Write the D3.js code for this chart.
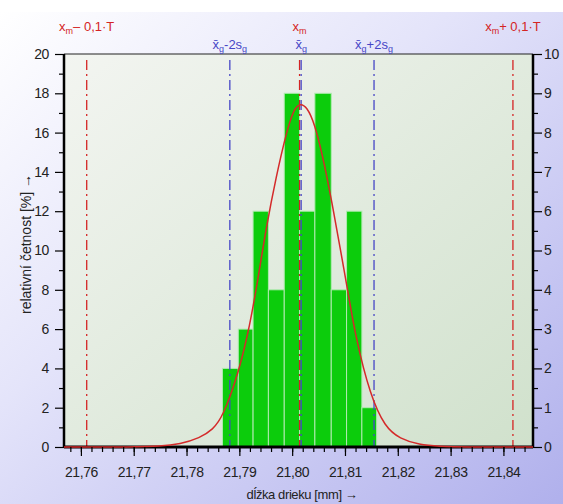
<!DOCTYPE html>
<html>
<head>
<meta charset="utf-8">
<script src="https://cdn.jsdelivr.net/npm/d3@7"></script>
<style>
body { margin: 0; background: #fff; }
text { font-family: "Liberation Sans Narrow", "Liberation Sans", Arial, sans-serif; }
</style>
</head>
<body>
<svg width="563" height="504"></svg>
<script>
// histogram: bin edges [mm] and relative frequency [%]
var binEdges = [21.7868, 21.7898, 21.7926, 21.7955, 21.7985, 21.8014, 21.8043, 21.8074, 21.8103, 21.8132, 21.8160];
var binPercent = [4, 6, 12, 8, 18, 12, 18, 8, 12, 2];

// fitted curve (x [mm], y [%])
var curveX = [21.7568, 21.7700, 21.7750, 21.7788, 21.7825, 21.7850, 21.7868, 21.7898, 21.7920, 21.7935, 21.7951, 21.7970, 21.7989, 21.8003, 21.8015, 21.8028, 21.8042, 21.8058, 21.8075, 21.8091, 21.8105, 21.8120, 21.8148, 21.8176, 21.8204, 21.8240, 21.8280, 21.8320, 21.8456];
var curveY = [0, 0, 0.03, 0.15, 0.45, 0.9, 1.5, 3.7, 6.2, 8.5, 11.2, 13.8, 16.0, 17.2, 17.5, 17.3, 16.5, 14.8, 12.5, 10.1, 8.0, 5.6, 2.6, 1.0, 0.42, 0.12, 0.03, 0, 0];

// reference lines
var refNames = ["xm-", "xm", "xm+", "xg-2s", "xg", "xg+2s"];
var refValues = [21.7611, 21.8014, 21.8418, 21.7882, 21.8017, 21.8155];

var xTicks = [21.76, 21.77, 21.78, 21.79, 21.80, 21.81, 21.82, 21.83, 21.84];
var leftTicks = [0, 2, 4, 6, 8, 10, 12, 14, 16, 18, 20];
var rightTicks = [0, 1, 2, 3, 4, 5, 6, 7, 8, 9, 10];

var svg = d3.select("svg"),
    box = {left: 64, right: 533, top: 54, bottom: 447};

var defs = svg.append("defs");
var bg = defs.append("linearGradient").attr("id", "bg")
    .attr("x1", 0).attr("y1", 0).attr("x2", 1).attr("y2", 1);
bg.append("stop").attr("offset", "0").attr("stop-color", "#ffffff");
bg.append("stop").attr("offset", "0.4").attr("stop-color", "#e4e4fa");
bg.append("stop").attr("offset", "1").attr("stop-color", "#b0b0ec");
var pg = defs.append("linearGradient").attr("id", "pg")
    .attr("x1", 0).attr("y1", 0).attr("x2", 1).attr("y2", 1);
pg.append("stop").attr("offset", "0").attr("stop-color", "#f3f5f1");
pg.append("stop").attr("offset", "1").attr("stop-color", "#d0e1cc");

svg.append("rect").attr("x", 0).attr("y", 12).attr("width", 563).attr("height", 492).attr("fill", "url(#bg)");
svg.append("rect").attr("x", box.left).attr("y", box.top)
    .attr("width", box.right - box.left).attr("height", box.bottom - box.top)
    .attr("fill", "url(#pg)");

var x = d3.scaleLinear().domain([21.7568, 21.8456]).range([box.left, box.right]);
var yL = d3.scaleLinear().domain([0, 20]).range([box.bottom, box.top]);
var yR = d3.scaleLinear().domain([0, 10]).range([box.bottom, box.top]);

// bars
svg.selectAll(".bar")
  .data(binPercent)
  .enter().append("rect")
    .attr("class", "bar")
    .attr("x", function(d, i) { return x(binEdges[i]); })
    .attr("y", function(d) { return yL(d); })
    .attr("width", function(d, i) { return x(binEdges[i + 1]) - x(binEdges[i]); })
    .attr("height", function(d) { return yL(0) - yL(d); })
    .attr("fill", "#0ccc0c")
    .attr("stroke", "#b0eab0")
    .attr("stroke-width", 1);

// vertical reference lines
var refColor = ["#d42424", "#d42424", "#d42424", "#4646c6", "#4646c6", "#4646c6"];
svg.selectAll(".ref")
  .data(refValues)
  .enter().append("line")
    .attr("class", "ref")
    .attr("x1", function(d) { return x(d); })
    .attr("x2", function(d) { return x(d); })
    .attr("y1", box.top + 6)
    .attr("y2", box.bottom)
    .attr("stroke", function(d, i) { return refColor[i]; })
    .attr("stroke-width", 1.3)
    .attr("stroke-dasharray", "10,4,2,4");

// axes lines
svg.append("line").attr("x1", box.left).attr("x2", box.right).attr("y1", box.top).attr("y2", box.top)
    .attr("stroke", "#222").attr("stroke-width", 1.2);
svg.append("line").attr("x1", box.left).attr("x2", box.left).attr("y1", box.top).attr("y2", box.bottom + 1)
    .attr("stroke", "#000").attr("stroke-width", 2.5);
svg.append("line").attr("x1", box.right).attr("x2", box.right).attr("y1", box.top).attr("y2", box.bottom + 1)
    .attr("stroke", "#000").attr("stroke-width", 2.5);
svg.append("line").attr("x1", box.left).attr("x2", box.right).attr("y1", box.bottom).attr("y2", box.bottom)
    .attr("stroke", "#000").attr("stroke-width", 3);

// curve
var line = d3.line()
    .x(function(d, i) { return x(curveX[i]); })
    .y(function(d) { return yL(d); })
    .curve(d3.curveBasis);
svg.append("path")
    .datum(curveY)
    .attr("d", line)
    .attr("fill", "none")
    .attr("stroke", "#d42a2a")
    .attr("stroke-width", 1.5);

function styleAxis(g) {
  g.select(".domain").remove();
  g.selectAll("line").attr("stroke", "#000").attr("stroke-width", 1.2);
  g.selectAll("text").attr("fill", "#222").style("font-size", "14px").style("letter-spacing", "-0.4px");
}

// bottom axis
var xMinor = d3.range(21.756, 21.846, 0.002).filter(function(v) { return v > 21.7568 && v < 21.8456; });
svg.append("g").attr("transform", "translate(0," + box.bottom + ")")
    .call(d3.axisBottom(x).tickValues(xMinor).tickSize(5).tickFormat(""))
    .call(styleAxis);
svg.append("g").attr("transform", "translate(0," + box.bottom + ")")
    .call(d3.axisBottom(x).tickValues(xTicks).tickSize(9).tickPadding(11)
      .tickFormat(function(d) { return d3.format(".2f")(d).replace(".", ","); }))
    .call(styleAxis);

// left axis
svg.append("g").attr("transform", "translate(" + box.left + ",0)")
    .call(d3.axisLeft(yL).tickValues(d3.range(1, 20, 2)).tickSize(5).tickFormat(""))
    .call(styleAxis);
svg.append("g").attr("transform", "translate(" + box.left + ",0)")
    .call(d3.axisLeft(yL).tickValues(leftTicks).tickSize(9).tickPadding(6))
    .call(styleAxis);

// right axis
svg.append("g").attr("transform", "translate(" + box.right + ",0)")
    .call(d3.axisRight(yR).tickValues(d3.range(0.5, 10, 1)).tickSize(5).tickFormat(""))
    .call(styleAxis);
svg.append("g").attr("transform", "translate(" + box.right + ",0)")
    .call(d3.axisRight(yR).tickValues(rightTicks).tickSize(9).tickPadding(2))
    .call(styleAxis);

// axis titles
svg.append("text")
    .attr("x", 302).attr("y", 499)
    .attr("text-anchor", "middle")
    .style("font-size", "13px").style("letter-spacing", "-0.4px").attr("fill", "#222")
    .text("dĺžka drieku [mm] →");
svg.append("text")
    .attr("transform", "translate(31,244) rotate(-90)")
    .attr("text-anchor", "middle")
    .style("font-size", "14px").attr("fill", "#222")
    .text("relativní četnost  [%] →");

// labels above the plot
function label(val, y, color, main, sub, rest, sub2) {
  var t = svg.append("text")
      .attr("x", x(val)).attr("y", y)
      .attr("text-anchor", "middle")
      .attr("fill", color)
      .style("font-size", "13px");
  t.append("tspan").text(main);
  t.append("tspan").attr("dy", 3).style("font-size", "9px").text(sub);
  if (rest) t.append("tspan").attr("dy", -3).text(rest);
  if (sub2) t.append("tspan").attr("dy", 3).style("font-size", "9px").text(sub2);
}
label(refValues[0], 31, "#d42424", "x", "m", "– 0,1·T");
label(refValues[1], 31, "#d42424", "x", "m", "");
label(refValues[2], 31, "#d42424", "x", "m", "+ 0,1·T");
label(refValues[3], 49, "#4646c6", "x̄", "g", "-2s", "g");
label(refValues[4], 49, "#4646c6", "x̄", "g", "");
label(refValues[5], 49, "#4646c6", "x̄", "g", "+2s", "g");
</script>
</body>
</html>
